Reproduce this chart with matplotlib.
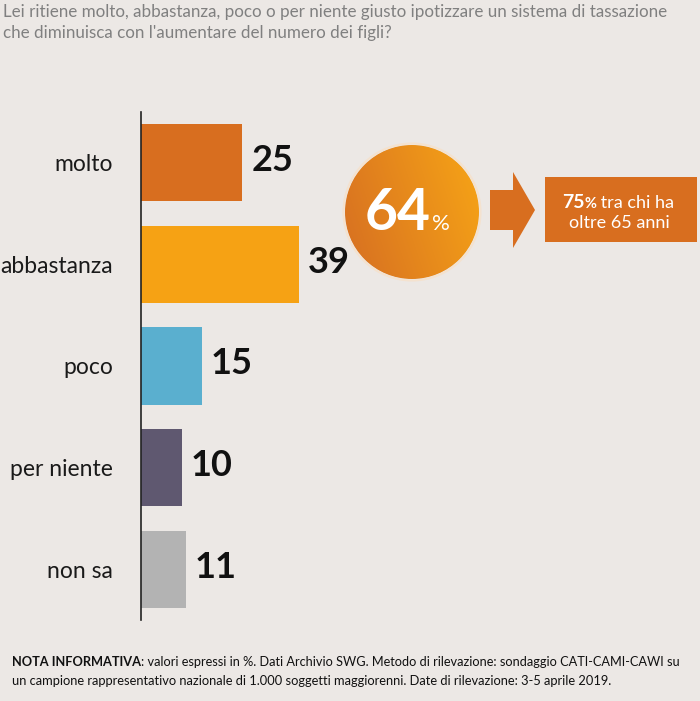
import matplotlib
matplotlib.use("Agg")
import matplotlib.pyplot as plt
import numpy as np
from matplotlib.patches import Circle, Rectangle, Polygon

categories = ["molto", "abbastanza", "poco", "per niente", "non sa"]
values = [25, 39, 15, 10, 11]
colors = ["#D86E1F", "#F6A214", "#5AAFCF", "#5F5870", "#B3B3B3"]
total_giusto = 64
over65 = 75

title_lines = ["Lei ritiene molto, abbastanza, poco o per niente giusto ipotizzare un sistema di tassazione",
               "che diminuisca con l'aumentare del numero dei figli?"]
note_bold = "NOTA INFORMATIVA"
note_line1 = ": valori espressi in %. Dati Archivio SWG. Metodo di rilevazione: sondaggio CATI-CAMI-CAWI su"
note_line2 = "un campione rappresentativo nazionale di 1.000 soggetti maggiorenni. Date di rilevazione: 3-5 aprile 2019."

FONT = "Lato"
BG = "#ECE8E5"
W, H = 700, 701
fig = plt.figure(figsize=(W / 100, H / 100), dpi=100, facecolor=BG)

# bar axes: x=0 at pixel 141, 4.05 px per unit; y from pixel 112 to 620
x0, x1 = 141, 700
ytop, ybot = 112, 620
ax = fig.add_axes([x0 / W, (H - ybot) / H, (x1 - x0) / W, (ybot - ytop) / H])
ax.set_facecolor("none")
ax.set_xlim(0, (x1 - x0) / 4.05)
ax.set_ylim(len(categories) - 0.5, -0.5)
ypos = np.arange(len(categories))
ax.barh(ypos, values, height=0.76, color=colors)
for s in ["top", "right", "bottom"]:
    ax.spines[s].set_visible(False)
ax.spines["left"].set_color("#222222")
ax.spines["left"].set_linewidth(1.2)
ax.set_xticks([])
ax.set_yticks(ypos)
ax.set_yticklabels(categories, fontsize=16.5, fontfamily=FONT, color="#1a1a1a")
ax.tick_params(axis="y", length=0, pad=20)
for y, v in zip(ypos, values):
    ax.annotate(str(v), (v, y), xytext=(9, 2), textcoords="offset pixels",
                ha="left", va="center", fontsize=26, fontweight="bold",
                fontfamily=FONT, color="#111111")

# overlay axes in pixel coords
ov = fig.add_axes([0, 0, 1, 1])
ov.set_xlim(0, W)
ov.set_ylim(H, 0)
ov.axis("off")
ov.set_facecolor("none")

# title
for i, line in enumerate(title_lines):
    ov.text(3, 12 + i * 21, line, fontsize=12.25, fontfamily=FONT, color="#808080",
            ha="left", va="center")

# circle with gradient
cx, cy, r = 412, 212, 67
grad = np.linspace(0, 1, 256)
gx, gy = np.meshgrid(grad, grad)
t = np.clip(0.75 * gx + 0.25 * (1 - gy), 0, 1)
c1 = np.array([0xD6, 0x6E, 0x22]) / 255
c2 = np.array([0xF7, 0xA5, 0x16]) / 255
img = c1[None, None, :] * (1 - t[..., None]) + c2[None, None, :] * t[..., None]
im = ov.imshow(img, extent=[cx - r, cx + r, cy + r, cy - r], zorder=2, interpolation="bilinear")
clip = Circle((cx, cy), r, transform=ov.transData)
im.set_clip_path(clip)
ov.add_patch(Circle((cx, cy), r + 1.5, facecolor="none", edgecolor="#F4E2CF", lw=1.5, zorder=3))
ov.set_xlim(0, W)
ov.set_ylim(H, 0)
ov.text(431, 213, str(total_giusto), fontsize=41, fontweight="bold", fontfamily=FONT,
        color="white", ha="right", va="center", zorder=4)
ov.text(432, 230, "%", fontsize=16, fontfamily=FONT, color="white", ha="left",
        va="baseline", zorder=4)

# arrow
ov.add_patch(Polygon([(490, 190), (513, 190), (513, 172), (535, 210), (513, 248), (513, 230), (490, 230)],
                     closed=True, facecolor="#D86E1F", edgecolor="none", zorder=2))

# box
ov.add_patch(Rectangle((545, 177), 152, 65, facecolor="#D86E1F", edgecolor="none", zorder=2))
fig.canvas.draw()
rend = fig.canvas.get_renderer()
inv = ov.transData.inverted()

def seq_text(x, y, parts):
    cur = x
    for txt, kw in parts:
        tt = ov.text(cur, y, txt, ha="left", va="baseline", zorder=5, fontfamily=FONT, **kw)
        bb = tt.get_window_extent(renderer=rend)
        cur = inv.transform((bb.x1, bb.y0))[0]

seq_text(562, 208, [(str(over65), dict(fontsize=14, fontweight="bold", color="white")),
                    ("%", dict(fontsize=10.5, fontweight="bold", color="white")),
                    (" tra chi ha", dict(fontsize=13, color="white"))])
ov.text(619, 228, "oltre 65 anni", fontsize=13, fontfamily=FONT, color="white",
        ha="center", va="baseline", zorder=5)

# note
seq_text(12, 666, [(note_bold, dict(fontsize=9.2, fontweight="bold", color="#111111")),
                   (note_line1, dict(fontsize=9.2, color="#111111"))])
ov.text(12, 685, note_line2, fontsize=9.3, fontfamily=FONT, color="#111111",
        ha="left", va="baseline")

fig.savefig("out.png", dpi=100, facecolor=BG)
